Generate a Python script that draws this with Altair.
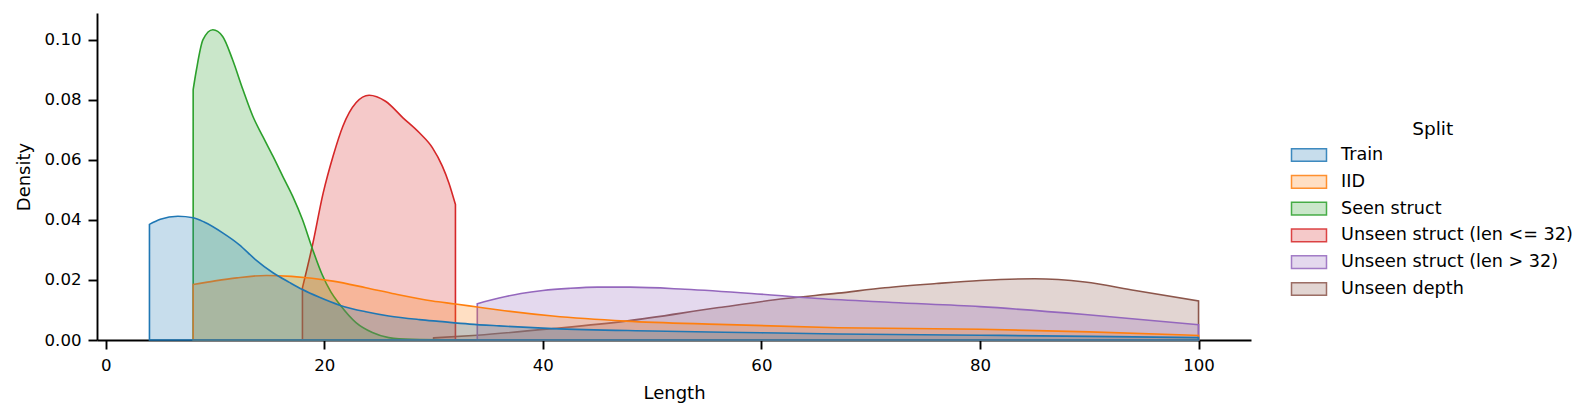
import altair as alt
import pandas as pd

splits = ["Train", "IID", "Seen struct", "Unseen struct (len <= 32)",
          "Unseen struct (len > 32)", "Unseen depth"]
colors = ["#1f77b4", "#ff7f0e", "#2ca02c", "#d62728", "#9467bd", "#8c564b"]

train_x = [4, 5, 6.6, 8, 9, 10.7, 12.2, 13.7, 15.3, 16.8, 18, 19.5, 21.4, 23.8, 25.9,
           28.7, 30.5, 33.3, 36, 40.9, 50, 60, 67, 80, 90, 100]
train_y = [0.0385, 0.0402, 0.0412, 0.0407, 0.0393, 0.0357, 0.0318, 0.0268, 0.0224, 0.0192,
           0.0168, 0.0143, 0.0116, 0.0094, 0.0080, 0.0068, 0.0062, 0.0053, 0.0047, 0.0038,
           0.0030, 0.0024, 0.0020, 0.0016, 0.0012, 0.0008]

iid_x = [8, 10, 12, 14.7, 17, 20.8, 23.8, 26.5, 29.9, 32, 34, 36, 40.9, 47.6, 56.1, 67,
         80, 90, 100]
iid_y = [0.0185, 0.0197, 0.0207, 0.0215, 0.0212, 0.0196, 0.0174, 0.0153, 0.0130, 0.0120,
         0.0110, 0.0100, 0.0080, 0.0063, 0.0052, 0.0041, 0.0036, 0.0027, 0.0015]

seen_x = [8, 8.3, 8.9, 9.8, 10.7, 11.6, 12.55, 13.46, 14.37, 15.3, 16.2, 17.1, 18.0, 18.9,
          19.8, 20.6, 21.4, 22.9, 24.4, 25.9, 28, 32]
seen_y = [0.0834, 0.0900, 0.1000, 0.1033, 0.1011, 0.0934, 0.0834, 0.0745, 0.0678, 0.0612,
          0.0545, 0.0479, 0.0401, 0.0305, 0.0218, 0.0160, 0.0119, 0.0058, 0.0025, 0.0008,
          0.0002, 0.0]

us_short_x = [18, 18.9, 19.9, 20.8, 21.7, 22.9, 24.1, 25.6, 27.2, 28.7, 29.9, 30.8, 31.4, 32]
us_short_y = [0.0174, 0.0313, 0.0490, 0.0612, 0.0712, 0.0790, 0.0815, 0.0795, 0.0740,
              0.0690, 0.0640, 0.0579, 0.0523, 0.0451]

us_long_x = [34, 36, 38, 40, 42.4, 45, 48, 53, 59.1, 65.2, 72, 80, 89.6, 100]
us_long_y = [0.0121, 0.0140, 0.0155, 0.0165, 0.0172, 0.0176, 0.0176, 0.0169, 0.0155,
             0.0138, 0.0125, 0.0111, 0.0085, 0.0051]

depth_x = [30, 34, 40.9, 47.6, 56.1, 62.2, 67, 71.3, 76, 80, 85, 89.6, 94.2, 100]
depth_y = [0.0007, 0.0016, 0.0038, 0.0063, 0.0108, 0.0138, 0.0156, 0.0174, 0.0188, 0.0198,
           0.0204, 0.0193, 0.0165, 0.0130]

x_ticks = [0, 20, 40, 60, 80, 100]
y_ticks = [0.0, 0.02, 0.04, 0.06, 0.08, 0.10]
legend_title = ["Split"]

series = [(train_x, train_y), (iid_x, iid_y), (seen_x, seen_y),
          (us_short_x, us_short_y), (us_long_x, us_long_y), (depth_x, depth_y)]
rows = []
for name, (xs, ys) in zip(splits, series):
    for xv, yv in zip(xs, ys):
        rows.append({"Split": name, "Length": xv, "Density": yv})
df = pd.DataFrame(rows)
legend_df = pd.DataFrame({"Split": splits})
title_df = pd.DataFrame({"t": legend_title})

col_scale = alt.Scale(domain=splits, range=colors)

base = alt.Chart(df).mark_area(
    interpolate="monotone", fillOpacity=0.25, strokeOpacity=1, strokeWidth=1.6
).encode(
    x=alt.X("Length:Q", scale=alt.Scale(domain=[-0.8, 104.8], nice=False, zero=False),
            axis=alt.Axis(values=x_ticks, title="Length", labelPadding=8,
                          titleX=577, titleY=58, titleBaseline="alphabetic",
                          titleAlign="center")),
    y=alt.Y("Density:Q", scale=alt.Scale(domain=[0, 0.1089], nice=False),
            axis=alt.Axis(values=y_ticks, format=".2f", title="Density", labelPadding=7,
                          titleX=-68, titleY=163.5, titleAngle=270,
                          titleBaseline="alphabetic", titleAlign="center")),
    fill=alt.Fill("Split:N", scale=col_scale, legend=None),
    stroke=alt.Stroke("Split:N", scale=col_scale, legend=None),
)

areas = alt.layer(*[base.transform_filter(alt.datum.Split == s) for s in reversed(splits)])

leg_y = alt.Y("Split:N", scale=alt.Scale(domain=splits, range=[142, 276], padding=0),
              axis=None)
swatch = "M-1,-0.363L1,-0.363L1,0.363L-1,0.363Z"
leg_sym = alt.Chart(legend_df).mark_point(
    shape=swatch, size=1225, filled=True, fillOpacity=0.25, strokeOpacity=0.85,
    strokeWidth=1.5, opacity=1
).encode(
    x=alt.value(1212), y=leg_y,
    fill=alt.Fill("Split:N", scale=col_scale, legend=None),
    stroke=alt.Stroke("Split:N", scale=col_scale, legend=None),
)
leg_txt = alt.Chart(legend_df).mark_text(
    align="left", baseline="middle", font="DejaVu Sans", fontSize=17.6, color="black"
).encode(x=alt.value(1244), y=leg_y, text="Split:N")
leg_title = alt.Chart(title_df).mark_text(
    align="center", baseline="middle", font="DejaVu Sans", fontSize=18.5, color="black"
).encode(x=alt.value(1335.7), y=alt.value(116), text="t:N")

legend = alt.layer(leg_sym, leg_txt, leg_title)

chart = alt.layer(areas, legend).resolve_scale(y="independent").properties(
    width=1154, height=327,
    autosize=alt.AutoSizeParams(type="none"),
    padding={"left": 89, "top": 5, "right": 330, "bottom": 64},
).configure_view(stroke=None).configure_axis(
    grid=False, domainColor="black", domainWidth=1.9, tickColor="black", tickWidth=1.9,
    tickSize=9, labelFont="DejaVu Sans", labelFontSize=16.6, labelColor="black",
    titleFont="DejaVu Sans", titleFontSize=18, titleFontWeight="normal", titleColor="black",
    zindex=1,
)

chart.save("out.html", embed_options={"renderer": "svg", "actions": False})
